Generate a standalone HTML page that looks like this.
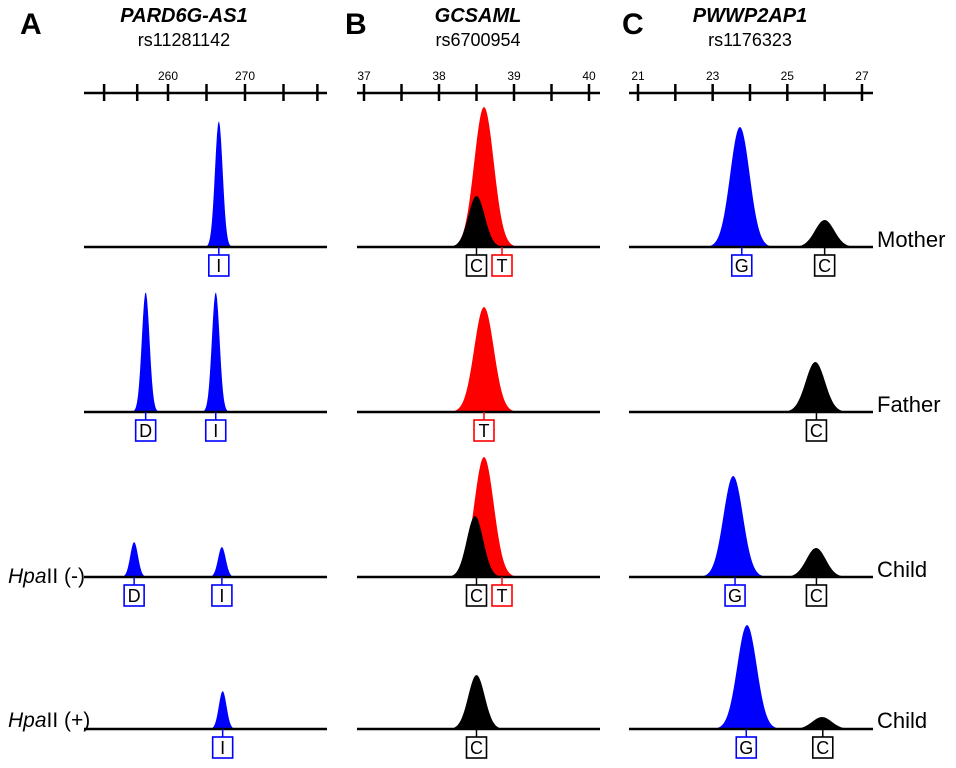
<!DOCTYPE html>
<html><head><meta charset="utf-8">
<style>
body{margin:0;background:#fff;}
svg{display:block;font-family:"Liberation Sans",Arial,sans-serif;}
</style></head>
<body>
<svg id="chart" width="956" height="768" viewBox="0 0 956 768"></svg>
<script>
// ---- data ----
const panelLetters = ["A","B","C"];
const geneNames = ["PARD6G-AS1","GCSAML","PWWP2AP1"];
const snpIds = ["rs11281142","rs6700954","rs1176323"];
const tickValsA = [251.7,256,260,265,270,275,279.4];
const tickValsB = [37,37.5,38,38.5,39,39.5,40];
const tickValsC = [21,22,23,24,25,26,27];
const tickLabelsA = ["","","260","","270","",""];
const tickLabelsB = ["37","","38","","39","","40"];
const tickLabelsC = ["21","","23","","25","","27"];
const rowNames = ["Mother","Father","Child","Child"];
const peaksA_pos = [[0,266.6],[1,257.1],[1,266.2],[2,255.6],[2,267.0],[3,267.1]];
const peaksA_h = [126,120,120,35,30,38];
const peaksA_lab = ["I","D","I","D","I","I"];
const peaksB_pos = [[0,38.6],[0,38.5],[1,38.6],[2,38.6],[2,38.48],[3,38.5]];
const peaksB_h = [140,51,105,120,61,54];
const peaksB_col = ["red","black","red","red","black","black"];
const peaksC_pos = [[0,23.73],[0,26.0],[1,25.75],[2,23.55],[2,25.77],[3,23.92],[3,25.93]];
const peaksC_h = [120,27,50,101,29,104,12];
const peaksC_col = ["blue","black","black","blue","black","blue","black"];
const labelsB = [[0,38.5,"C","black"],[0,38.84,"T","red"],[1,38.6,"T","red"],[2,38.5,"C","black"],[2,38.84,"T","red"],[3,38.5,"C","black"]];
const labelsC = [[0,23.78,"G","blue"],[0,26.0,"C","black"],[1,25.78,"C","black"],[2,23.6,"G","blue"],[2,25.78,"C","black"],[3,23.9,"G","blue"],[3,25.95,"C","black"]];

// ---- layout ----
const NS="http://www.w3.org/2000/svg";
const svg=document.getElementById('chart');
const baselines=[247,412,577,729];
const panels=[
 {x0:84,x1:327,f:v=>168+(v-260)*7.7,ticks:tickValsA,labs:tickLabelsA,sig:0.5,lx:20,cx:184},
 {x0:357,x1:600,f:v=>364+(v-37)*75,ticks:tickValsB,labs:tickLabelsB,sig:0.13,lx:345,cx:478},
 {x0:629,x1:873,f:v=>638+(v-21)*37.33,ticks:tickValsC,labs:tickLabelsC,sig:0.26,lx:622,cx:750}
];
function el(tag,attrs,parent){const e=document.createElementNS(NS,tag);for(const k in attrs)e.setAttribute(k,attrs[k]);(parent||svg).appendChild(e);return e;}
function txt(x,y,s,attrs){const t=el('text',Object.assign({x:x,y:y},attrs));t.textContent=s;return t;}

panels.forEach((p,i)=>{
  const L=txt(p.lx,34,panelLetters[i],{'font-size':30,'font-weight':'bold'});
  
  
  const G=txt(p.cx,22,geneNames[i],{'font-size':20,'font-weight':'bold','font-style':'italic','text-anchor':'middle'});
  
  
  const R=txt(p.cx,46,snpIds[i],{'font-size':18,'text-anchor':'middle'});
  
  
  const ax=el('line',{x1:p.x0,x2:p.x1,y1:93,y2:93,stroke:'#000','stroke-width':2.5});
  
  
  p.ticks.forEach((t,k)=>{
    const x=p.f(t);
    el('line',{x1:x,x2:x,y1:84,y2:101,stroke:'#000','stroke-width':2.5});
    if(p.labs[k]){const tl=txt(x,80,p.labs[k],{'font-size':12,'text-anchor':'middle'});
      
      }
  });
});

function peak(p,row,pos,h,col,sig){
  const b=baselines[row];let d='M'+p.x0+','+b;
  const v0=p.f(pos), s=(p.f(pos+sig)-v0);
  for(let x=p.x0;x<=p.x1;x+=1){
    const y=b-h*Math.exp(-0.5*Math.pow((x-v0)/s,2));
    d+=' L'+x+','+y.toFixed(1);
  }
  d+=' L'+p.x1+','+b+' Z';
  const e=el('path',{d:d,fill:col});
  
  
}
function allele(p,row,pos,s,col){
  const b=baselines[row],x=p.f(pos);
  el('line',{x1:x,x2:x,y1:b,y2:b+8,stroke:col,'stroke-width':1.5});
  const r=el('rect',{x:x-10,y:b+8,width:20,height:21,fill:'#fff',stroke:col,'stroke-width':1.6});
  
  
  const t=txt(x,b+25,s,{'font-size':18,'text-anchor':'middle'});
  
  
}
peaksA_pos.forEach((q,k)=>peak(panels[0],q[0],q[1],peaksA_h[k],'blue',panels[0].sig));
peaksB_pos.forEach((q,k)=>peak(panels[1],q[0],q[1],peaksB_h[k],peaksB_col[k],peaksB_col[k]==='black'?0.11:panels[1].sig));
peaksC_pos.forEach((q,k)=>peak(panels[2],q[0],q[1],peaksC_h[k],peaksC_col[k],panels[2].sig));
baselines.forEach(b=>{panels.forEach(p=>{
  const bl=el('line',{x1:p.x0,x2:p.x1,y1:b,y2:b,stroke:'#000','stroke-width':2.5});
  
  
});});
peaksA_pos.forEach((q,k)=>allele(panels[0],q[0],q[1],peaksA_lab[k],'blue'));
labelsB.forEach(q=>allele(panels[1],q[0],q[1],q[2],q[3]));
labelsC.forEach(q=>allele(panels[2],q[0],q[1],q[2],q[3]));
rowNames.forEach((n,k)=>{
  const t=txt(877,baselines[k]+(k===3?-1:0),n,{'font-size':22});
  
  
});
[["(-)",583],["(+)",727]].forEach(q=>{
  const t=el('text',{x:8,y:q[1],'font-size':21});
  
  
  const a=el('tspan',{'font-style':'italic'},t);a.textContent='Hpa';
  const c=el('tspan',{},t);c.textContent='II '+q[0];
});
</script>
</body></html>
